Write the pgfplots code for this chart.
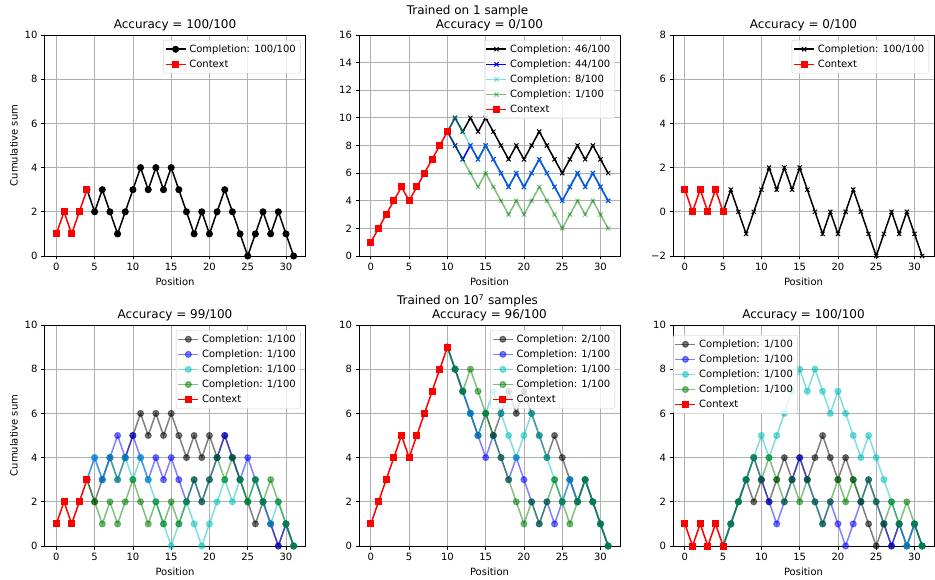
\documentclass[border=0pt]{standalone}
\usepackage{fontspec}
\setmainfont{DejaVu Sans}
\usepackage{pgfplots}
\pgfplotsset{compat=1.18}

\definecolor{mc}{RGB}{0,191,191}
\definecolor{mg}{RGB}{0,128,0}
\definecolor{gridc}{RGB}{176,176,176}
\definecolor{legc}{RGB}{204,204,204}

\pgfplotsset{
  panel/.style={
    width=261pt, height=221pt, scale only axis,
    anchor=north west,
    xmin=-1.55, xmax=32.55,
    xtick={0,5,...,30},
    tick align=outside, tick pos=left,
    major tick length=3.5pt,
    every tick/.style={black, line width=0.8pt},
    axis line style={line width=0.8pt},
    grid=major, major grid style={gridc, line width=0.8pt},
    ticklabel style={font=\fontsize{10}{12}\selectfont},
    /pgf/number format/assume math mode=true,
    xlabel={Position},
    label style={font=\fontsize{10}{12}\selectfont},
    title style={font=\fontsize{12}{14.4}\selectfont, align=center, anchor=south, inner sep=0pt, yshift=-2.6pt},
    legend cell align=left,
    legend style={at={(1,1)}, anchor=north east, xshift=-5pt, yshift=-5pt,
      draw=legc, rounded corners=2pt, fill=white, fill opacity=0.8, text opacity=1,
      inner sep=1.5pt, nodes={inner sep=3pt},
      font=\fontsize{10}{12}\selectfont},
    legend image code/.code={\draw[mark repeat=2,mark phase=2] plot coordinates {(0pt,0pt) (10pt,0pt) (20pt,0pt)};},
  },
  mo/.style={line width=1.5pt, mark=*, mark size=3pt, mark options={line width=1pt}},
  mx/.style={line width=1.5pt, mark=x, mark size=3pt, mark options={line width=1pt}},
  ctx/.style={red, opacity=1, line width=1.5pt, mark=square*, mark size=3pt, mark options={line width=1pt}},
}

\begin{document}
\begin{tikzpicture}
\path[use as bounding box] (0,0) rectangle (935pt,-580pt);

% ---------------- top row: trained on 1 sample ----------------
\begin{axis}[panel, at={(44.5pt,-35pt)}, ymin=0, ymax=10, ytick={0,2,...,10},
  ylabel={Cumulative sum}, title={Accuracy = 100/100}]
\addplot[black, opacity=1, mo] coordinates {(4,3)(5,2)(6,3)(7,2)(8,1)(9,2)(10,3)(11,4)(12,3)(13,4)(14,3)(15,4)(16,3)(17,2)(18,1)(19,2)(20,1)(21,2)(22,3)(23,2)(24,1)(25,0)(26,1)(27,2)(28,1)(29,2)(30,1)(31,0)};
\addlegendentry{Completion: 100/100}
\addplot[ctx] coordinates {(0,1)(1,2)(2,1)(3,2)(4,3)};
\addlegendentry{Context}
\end{axis}

\begin{axis}[panel, at={(359pt,-35pt)}, ymin=0, ymax=16, ytick={0,2,...,16},
  title={Accuracy = 0/100}]
\addplot[black, opacity=1, mx] coordinates {(10,9)(11,10)(12,9)(13,10)(14,9)(15,10)(16,9)(17,8)(18,7)(19,8)(20,7)(21,8)(22,9)(23,8)(24,7)(25,6)(26,7)(27,8)(28,7)(29,8)(30,7)(31,6)};
\addlegendentry{Completion: 46/100}
\addplot[blue, opacity=1, mx] coordinates {(10,9)(11,8)(12,7)(13,8)(14,7)(15,8)(16,7)(17,6)(18,5)(19,6)(20,5)(21,6)(22,7)(23,6)(24,5)(25,4)(26,5)(27,6)(28,5)(29,6)(30,5)(31,4)};
\addlegendentry{Completion: 44/100}
\addplot[mc, opacity=0.5, mx] coordinates {(10,9)(11,10)(12,9)(13,8)(14,7)(15,8)(16,7)(17,6)(18,5)(19,6)(20,5)(21,6)(22,7)(23,6)(24,5)(25,4)(26,5)(27,6)(28,5)(29,6)(30,5)(31,4)};
\addlegendentry{Completion: 8/100}
\addplot[mg, opacity=0.5, mx] coordinates {(10,9)(11,8)(12,7)(13,6)(14,5)(15,6)(16,5)(17,4)(18,3)(19,4)(20,3)(21,4)(22,5)(23,4)(24,3)(25,2)(26,3)(27,4)(28,3)(29,4)(30,3)(31,2)};
\addlegendentry{Completion: 1/100}
\addplot[ctx] coordinates {(0,1)(1,2)(2,3)(3,4)(4,5)(5,4)(6,5)(7,6)(8,7)(9,8)(10,9)};
\addlegendentry{Context}
\end{axis}

\begin{axis}[panel, at={(673pt,-35pt)}, ymin=-2, ymax=8, ytick={-2,0,...,8},
  yticklabels={−2,0,2,4,6,8}, title={Accuracy = 0/100}]
\addplot[black, opacity=1, mx] coordinates {(5,0)(6,1)(7,0)(8,-1)(9,0)(10,1)(11,2)(12,1)(13,2)(14,1)(15,2)(16,1)(17,0)(18,-1)(19,0)(20,-1)(21,0)(22,1)(23,0)(24,-1)(25,-2)(26,-1)(27,0)(28,-1)(29,0)(30,-1)(31,-2)};
\addlegendentry{Completion: 100/100}
\addplot[ctx] coordinates {(0,1)(1,0)(2,1)(3,0)(4,1)(5,0)};
\addlegendentry{Context}
\end{axis}

% ---------------- bottom row: trained on 10^7 samples ----------------
\begin{axis}[panel, at={(44.5pt,-325pt)}, ymin=0, ymax=10, ytick={0,2,...,10},
  ylabel={Cumulative sum}, title={Accuracy = 99/100}]
\addplot[black, opacity=0.5, mo] coordinates {(4,3)(5,2)(6,3)(7,4)(8,3)(9,4)(10,5)(11,6)(12,5)(13,6)(14,5)(15,6)(16,5)(17,4)(18,5)(19,4)(20,5)(21,4)(22,5)(23,4)(24,3)(25,2)(26,1)(27,2)(28,1)(29,0)(30,1)(31,0)};
\addlegendentry{Completion: 1/100}
\addplot[blue, opacity=0.5, mo] coordinates {(4,3)(5,4)(6,3)(7,4)(8,5)(9,4)(10,5)(11,4)(12,3)(13,4)(14,3)(15,4)(16,3)(17,2)(18,3)(19,2)(20,3)(21,4)(22,5)(23,4)(24,3)(25,4)(26,3)(27,2)(28,1)(29,0)(30,1)(31,0)};
\addlegendentry{Completion: 1/100}
\addplot[mc, opacity=0.5, mo] coordinates {(4,3)(5,4)(6,3)(7,4)(8,3)(9,4)(10,3)(11,4)(12,3)(13,2)(14,1)(15,0)(16,1)(17,2)(18,1)(19,0)(20,1)(21,2)(22,3)(23,2)(24,3)(25,2)(26,3)(27,2)(28,1)(29,2)(30,1)(31,0)};
\addlegendentry{Completion: 1/100}
\addplot[mg, opacity=0.5, mo] coordinates {(4,3)(5,2)(6,1)(7,2)(8,1)(9,2)(10,3)(11,2)(12,1)(13,2)(14,1)(15,2)(16,1)(17,2)(18,3)(19,2)(20,3)(21,4)(22,3)(23,4)(24,3)(25,2)(26,3)(27,2)(28,3)(29,2)(30,1)(31,0)};
\addlegendentry{Completion: 1/100}
\addplot[ctx] coordinates {(0,1)(1,2)(2,1)(3,2)(4,3)};
\addlegendentry{Context}
\end{axis}

\begin{axis}[panel, at={(359pt,-325pt)}, ymin=0, ymax=10, ytick={0,2,...,10},
  title={Accuracy = 96/100}]
\addplot[black, opacity=0.5, mo] coordinates {(10,9)(11,8)(12,7)(13,6)(14,5)(15,6)(16,5)(17,6)(18,7)(19,6)(20,7)(21,6)(22,5)(23,4)(24,5)(25,4)(26,3)(27,2)(28,3)(29,2)(30,1)(31,0)};
\addlegendentry{Completion: 2/100}
\addplot[blue, opacity=0.5, mo] coordinates {(10,9)(11,8)(12,7)(13,6)(14,5)(15,4)(16,5)(17,4)(18,3)(19,4)(20,3)(21,2)(22,1)(23,2)(24,1)(25,2)(26,3)(27,2)(28,3)(29,2)(30,1)(31,0)};
\addlegendentry{Completion: 1/100}
\addplot[mc, opacity=0.5, mo] coordinates {(10,9)(11,8)(12,7)(13,6)(14,5)(15,6)(16,7)(17,6)(18,5)(19,4)(20,5)(21,6)(22,5)(23,4)(24,3)(25,2)(26,3)(27,2)(28,3)(29,2)(30,1)(31,0)};
\addlegendentry{Completion: 1/100}
\addplot[mg, opacity=0.5, mo] coordinates {(10,9)(11,8)(12,7)(13,8)(14,7)(15,6)(16,5)(17,4)(18,3)(19,2)(20,1)(21,2)(22,1)(23,2)(24,3)(25,2)(26,1)(27,2)(28,3)(29,2)(30,1)(31,0)};
\addlegendentry{Completion: 1/100}
\addplot[ctx] coordinates {(0,1)(1,2)(2,3)(3,4)(4,5)(5,4)(6,5)(7,6)(8,7)(9,8)(10,9)};
\addlegendentry{Context}
\end{axis}

\begin{axis}[panel, at={(673pt,-325pt)}, ymin=0, ymax=10, ytick={0,2,...,10},
  title={Accuracy = 100/100},
  legend style={at={(0,1)}, anchor=north west, xshift=5pt, yshift=-5pt}]
\addplot[black, opacity=0.5, mo] coordinates {(5,0)(6,1)(7,2)(8,3)(9,2)(10,3)(11,2)(12,3)(13,4)(14,3)(15,4)(16,3)(17,4)(18,5)(19,4)(20,3)(21,4)(22,3)(23,2)(24,1)(25,0)(26,1)(27,0)(28,1)(29,0)(30,1)(31,0)};
\addlegendentry{Completion: 1/100}
\addplot[blue, opacity=0.5, mo] coordinates {(5,0)(6,1)(7,2)(8,3)(9,4)(10,3)(11,2)(12,1)(13,2)(14,3)(15,4)(16,3)(17,2)(18,1)(19,2)(20,1)(21,0)(22,1)(23,2)(24,3)(25,2)(26,1)(27,0)(28,1)(29,0)(30,1)(31,0)};
\addlegendentry{Completion: 1/100}
\addplot[mc, opacity=0.5, mo] coordinates {(5,0)(6,1)(7,2)(8,3)(9,4)(10,5)(11,4)(12,5)(13,6)(14,7)(15,8)(16,7)(17,8)(18,7)(19,6)(20,7)(21,6)(22,5)(23,4)(24,5)(25,4)(26,3)(27,2)(28,1)(29,0)(30,1)(31,0)};
\addlegendentry{Completion: 1/100}
\addplot[mg, opacity=0.5, mo] coordinates {(5,0)(6,1)(7,2)(8,3)(9,4)(10,3)(11,4)(12,3)(13,2)(14,3)(15,2)(16,3)(17,2)(18,1)(19,2)(20,3)(21,2)(22,3)(23,2)(24,3)(25,2)(26,1)(27,2)(28,1)(29,2)(30,1)(31,0)};
\addlegendentry{Completion: 1/100}
\addplot[ctx] coordinates {(0,1)(1,0)(2,1)(3,0)(4,1)(5,0)};
\addlegendentry{Context}
\end{axis}

% row headings, centred on the figure
\node[anchor=base, font=\fontsize{12}{14.4}\selectfont] at (467.5pt,-14.6pt) {Trained on 1 sample};
\node[anchor=base, font=\fontsize{12}{14.4}\selectfont] at (467.5pt,-304.6pt) {Trained on 10\textsuperscript{7} samples};
\end{tikzpicture}
\end{document}
